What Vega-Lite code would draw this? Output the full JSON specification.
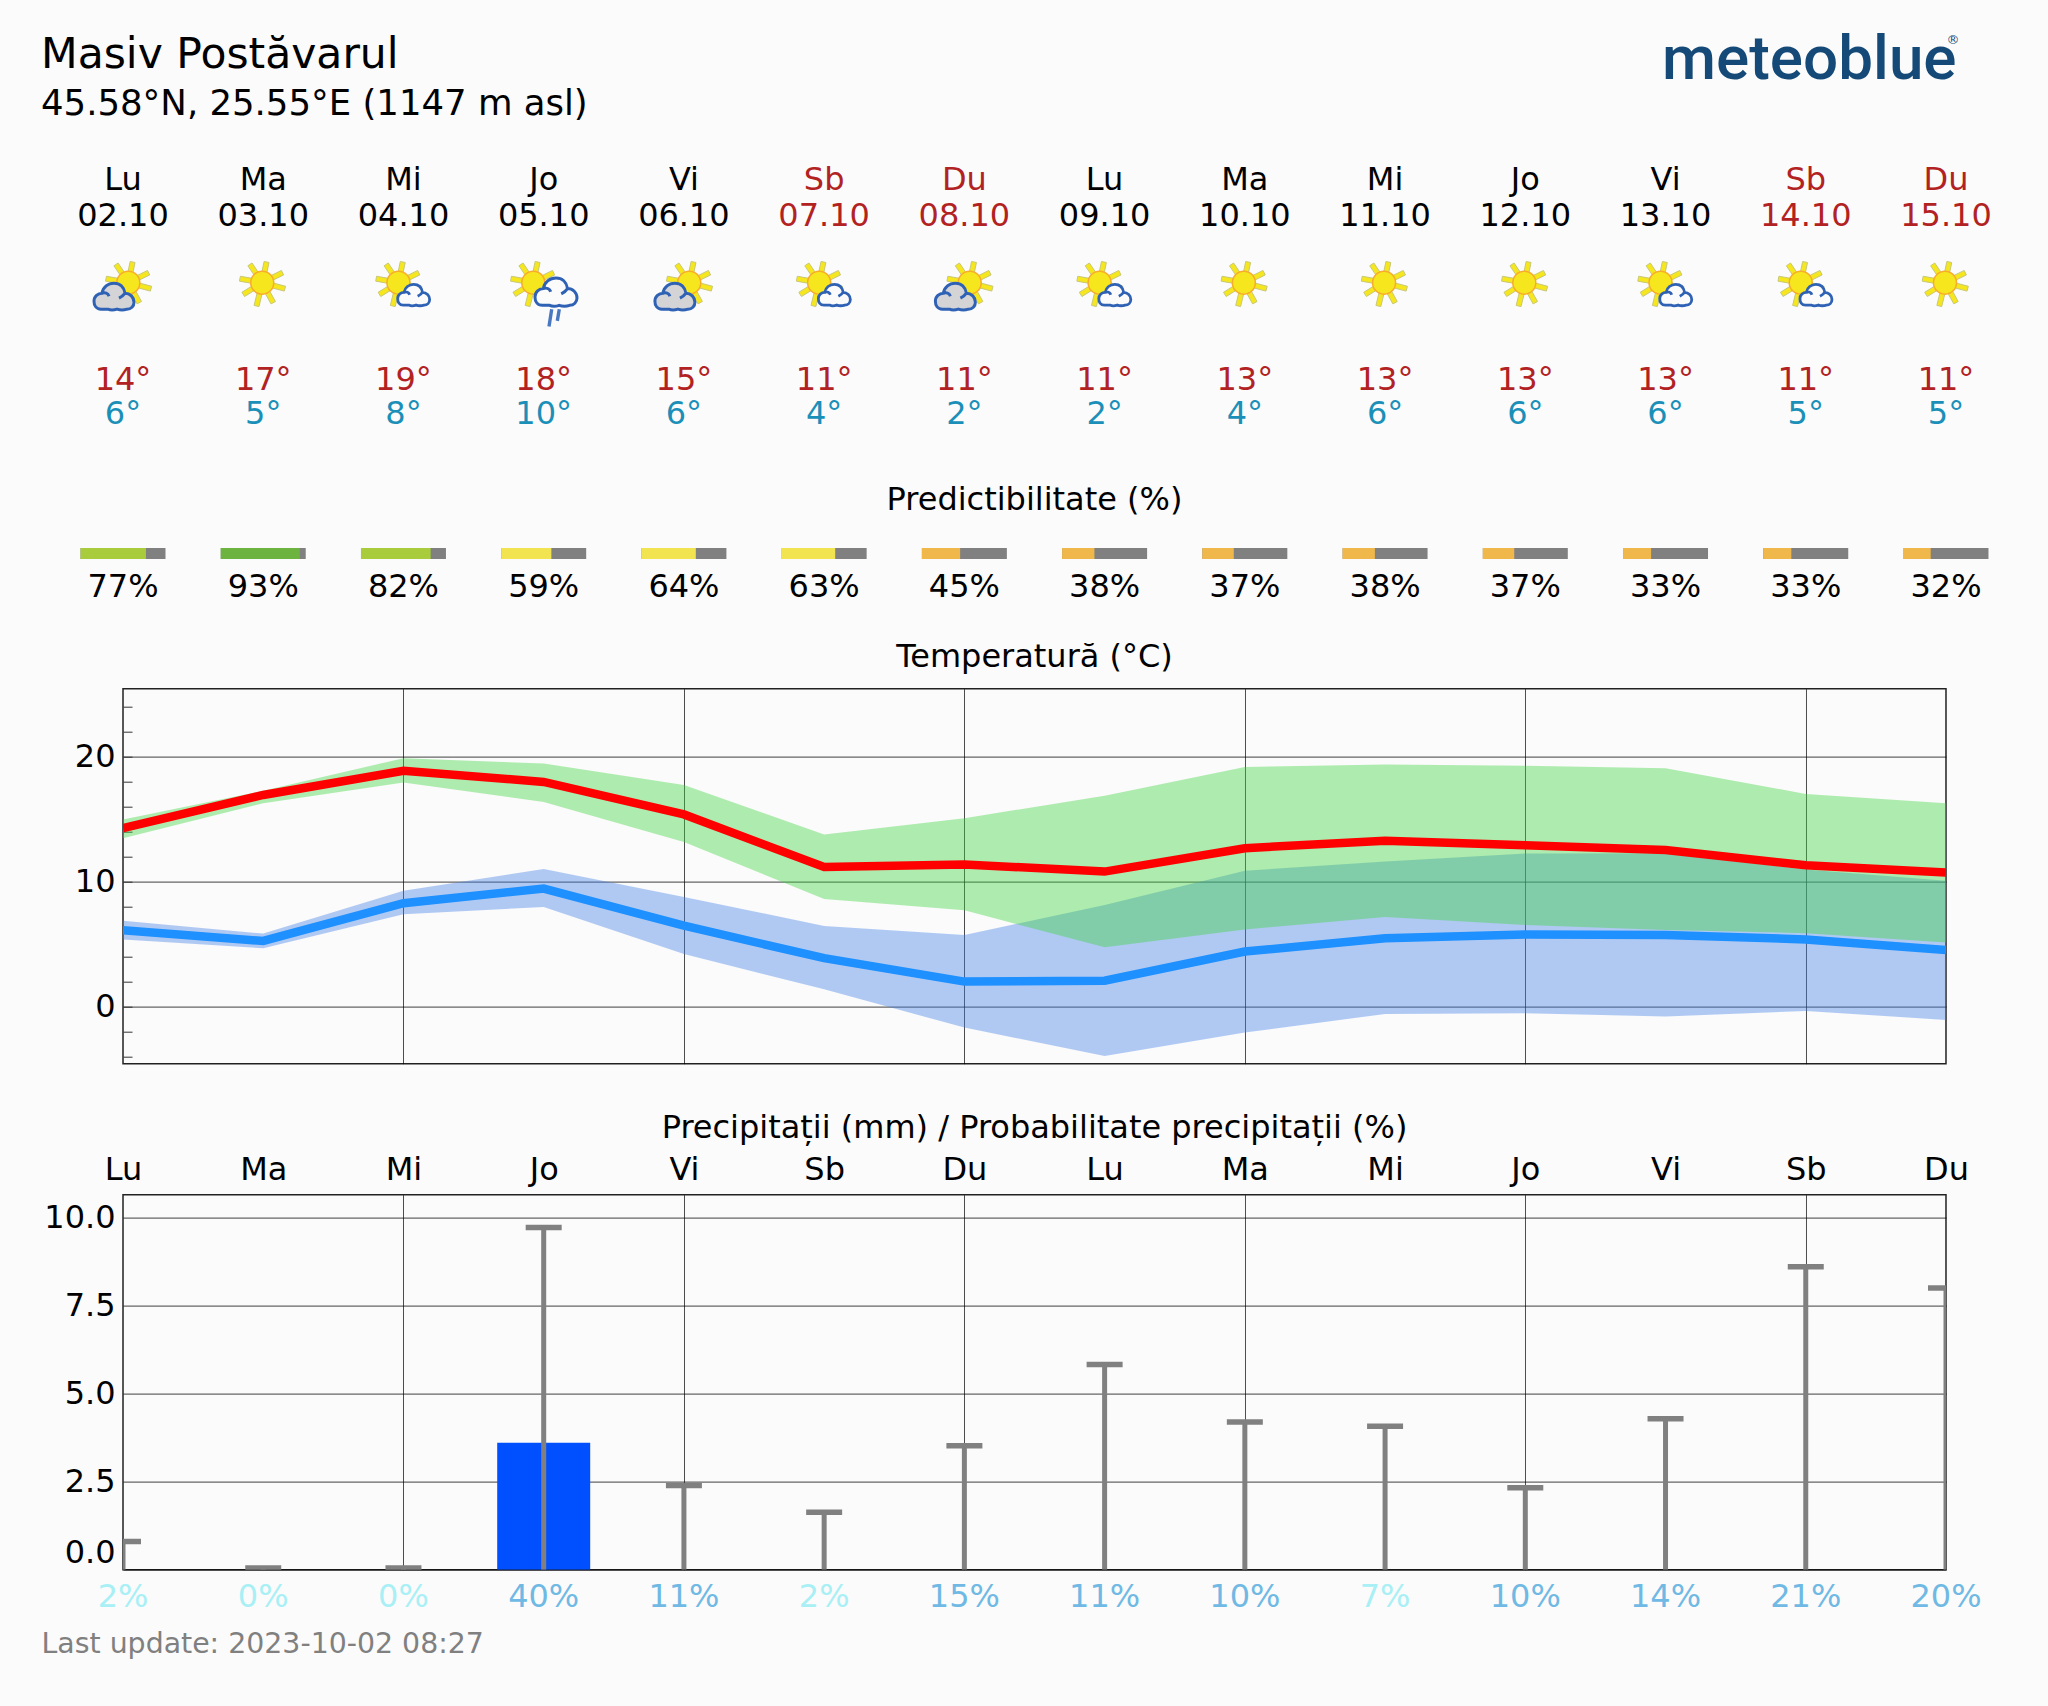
{
"$schema":"https://vega.github.io/schema/vega-lite/v6.json",
"background":"#fbfbfb",
"padding":{"left":40,"top":28.7,"right":70,"bottom":100},
"autosize":{"type":"pad"},
"spacing":131,
"bounds":"flush",
"resolve":{"scale":{"color":"independent"}},
"config":{"view":{"stroke":null},"font":"DejaVu Sans","text":{"font":"DejaVu Sans","fontSize":32},"title":{"font":"DejaVu Sans","fontSize":32,"fontWeight":"normal","color":"#000"},"axis":{"labelFont":"DejaVu Sans","labelFontSize":32,"labelColor":"#000","titleFont":"DejaVu Sans","titleFontWeight":"normal","domain":false}},
"datasets":{"days":[
{"d":0,"dow":"Lu","date":"02.10","icon":"big","tmax":14,"tmin":6,"pred":77,"prob":2,"rain":0,"rainMax":0.8,"hi":14.3,"hiUp":15.0,"hiLo":13.5,"lo":6.13,"loUp":6.9,"loLo":5.39},
{"d":1,"dow":"Ma","date":"03.10","icon":"sun","tmax":17,"tmin":5,"pred":93,"prob":0,"rain":0,"rainMax":0.05,"hi":16.96,"hiUp":17.3,"hiLo":16.3,"lo":5.28,"loUp":5.87,"loLo":4.7},
{"d":2,"dow":"Mi","date":"04.10","icon":"small","tmax":19,"tmin":8,"pred":82,"prob":0,"rain":0,"rainMax":0.05,"hi":18.9,"hiUp":19.9,"hiLo":17.95,"lo":8.3,"loUp":9.3,"loLo":7.41},
{"d":3,"dow":"Jo","date":"05.10","icon":"rain","tmax":18,"tmin":10,"pred":59,"prob":40,"rain":3.61,"rainMax":9.73,"hi":18.0,"hiUp":19.47,"hiLo":16.4,"lo":9.47,"loUp":11.04,"loLo":8.0},
{"d":4,"dow":"Vi","date":"06.10","icon":"big","tmax":15,"tmin":6,"pred":64,"prob":11,"rain":0,"rainMax":2.39,"hi":15.4,"hiUp":17.76,"hiLo":13.2,"lo":6.5,"loUp":8.8,"loLo":4.24},
{"d":5,"dow":"Sb","date":"07.10","icon":"small","tmax":11,"tmin":4,"pred":63,"prob":2,"rain":0,"rainMax":1.63,"hi":11.2,"hiUp":13.8,"hiLo":8.64,"lo":3.9,"loUp":6.48,"loLo":1.41},
{"d":6,"dow":"Du","date":"08.10","icon":"big","tmax":11,"tmin":2,"pred":45,"prob":15,"rain":0,"rainMax":3.52,"hi":11.4,"hiUp":15.1,"hiLo":7.73,"lo":2.03,"loUp":5.76,"loLo":-1.65},
{"d":7,"dow":"Lu","date":"09.10","icon":"small","tmax":11,"tmin":2,"pred":38,"prob":11,"rain":0,"rainMax":5.83,"hi":10.83,"hiUp":16.9,"hiLo":4.77,"lo":2.1,"loUp":8.16,"loLo":-3.92},
{"d":8,"dow":"Ma","date":"10.10","icon":"sun","tmax":13,"tmin":4,"pred":37,"prob":10,"rain":0,"rainMax":4.2,"hi":12.7,"hiUp":19.2,"hiLo":6.2,"lo":4.43,"loUp":10.9,"loLo":-2.05},
{"d":9,"dow":"Mi","date":"11.10","icon":"sun","tmax":13,"tmin":6,"pred":38,"prob":7,"rain":0,"rainMax":4.08,"hi":13.3,"hiUp":19.4,"hiLo":7.2,"lo":5.5,"loUp":11.63,"loLo":-0.56},
{"d":10,"dow":"Jo","date":"12.10","icon":"sun","tmax":13,"tmin":6,"pred":37,"prob":10,"rain":0,"rainMax":2.33,"hi":12.93,"hiUp":19.3,"hiLo":6.56,"lo":5.8,"loUp":12.27,"loLo":-0.5},
{"d":11,"dow":"Vi","date":"13.10","icon":"small","tmax":13,"tmin":6,"pred":33,"prob":14,"rain":0,"rainMax":4.29,"hi":12.56,"hiUp":19.1,"hiLo":6.16,"lo":5.76,"loUp":12.3,"loLo":-0.77},
{"d":12,"dow":"Sb","date":"14.10","icon":"small","tmax":11,"tmin":5,"pred":33,"prob":21,"rain":0,"rainMax":8.61,"hi":11.33,"hiUp":17.04,"hiLo":5.9,"lo":5.4,"loUp":11.0,"loLo":-0.32},
{"d":13,"dow":"Du","date":"15.10","icon":"sun","tmax":11,"tmin":5,"pred":32,"prob":20,"rain":0,"rainMax":8.01,"hi":10.75,"hiUp":16.3,"hiLo":5.15,"lo":4.56,"loUp":10.1,"loLo":-1.04}
]},
"vconcat":[
{"width":1823,"height":288,"data":{"name":"days"},
 "title":{"text":"Masiv Postăvarul","subtitle":"45.58°N, 25.55°E (1147 m asl)","anchor":"start","frame":"group","dx":-82,"offset":-94,"fontSize":42.5,"subtitleFont":"DejaVu Sans","subtitleFontSize":35.5,"subtitleColor":"#000","subtitlePadding":11},
 "transform":[{"calculate":"datum.tmax+'°'","as":"maxLabel"},{"calculate":"datum.tmin+'°'","as":"minLabel"}],
 "encoding":{"x":{"field":"d","type":"quantitative","scale":{"domain":[0,13],"nice":false},"axis":null}},
 "layer":[
 {"mark":{"type":"text"},"encoding":{"y":{"datum":52,"type":"quantitative","scale":{"domain":[0,288],"reverse":true,"nice":false},"axis":null},"text":{"field":"dow"},"color":{"condition":{"test":"datum.dow=='Sb'||datum.dow=='Du'","value":"#b22222"},"value":"#000"}}},
 {"mark":{"type":"text"},"encoding":{"y":{"datum":88,"type":"quantitative","scale":{"domain":[0,288],"reverse":true,"nice":false},"axis":null},"text":{"field":"date"},"color":{"condition":{"test":"datum.dow=='Sb'||datum.dow=='Du'","value":"#b22222"},"value":"#000"}}},
 {"mark":{"type":"text","color":"#b22222"},"encoding":{"y":{"datum":252,"type":"quantitative","scale":{"domain":[0,288],"reverse":true,"nice":false},"axis":null},"text":{"field":"maxLabel"}}},
 {"mark":{"type":"text","color":"#1a8fb8"},"encoding":{"y":{"datum":286,"type":"quantitative","scale":{"domain":[0,288],"reverse":true,"nice":false},"axis":null},"text":{"field":"minLabel"}}},
 {"transform":[{"filter":"datum.icon=='sun'"}],"mark":{"type":"point","filled":true,"size":4,"xOffset":-1,"fill":"#f5e61e","stroke":"#c8c878","strokeWidth":1,"opacity":1,"shape":"M4.49,-9.3L6.75,-20.19L1.85,-21.21L-0.41,-10.32ZM10.08,-2.17L21.4,-7.75L19.2,-12.25L7.88,-6.67ZM9.02,4.97L22.06,8.42L23.34,3.58L10.3,0.13ZM2.63,9.97L8.81,21.2L13.19,18.8L7.01,7.57ZM-4.81,9.12L-8.13,22.71L-3.27,23.89L0.05,10.3ZM-9.83,3.12L-20.31,9.57L-17.69,13.83L-7.21,7.38ZM-9.4,-4.23L-21.86,-6.46L-22.74,-1.54L-10.28,0.69ZM-3.51,-9.72L-10.22,-19.7L-14.38,-16.9L-7.67,-6.92Z"},"encoding":{"y":{"datum":155,"type":"quantitative","scale":{"domain":[0,288],"reverse":true,"nice":false},"axis":null}}},
 {"transform":[{"filter":"datum.icon=='small'"}],"mark":{"type":"point","filled":true,"size":4,"xOffset":-5,"fill":"#f5e61e","stroke":"#c8c878","strokeWidth":1,"opacity":1,"shape":"M4.49,-9.3L6.75,-20.19L1.85,-21.21L-0.41,-10.32ZM10.08,-2.17L21.4,-7.75L19.2,-12.25L7.88,-6.67ZM9.02,4.97L22.06,8.42L23.34,3.58L10.3,0.13ZM2.63,9.97L8.81,21.2L13.19,18.8L7.01,7.57ZM-4.81,9.12L-8.13,22.71L-3.27,23.89L0.05,10.3ZM-9.83,3.12L-20.31,9.57L-17.69,13.83L-7.21,7.38ZM-9.4,-4.23L-21.86,-6.46L-22.74,-1.54L-10.28,0.69ZM-3.51,-9.72L-10.22,-19.7L-14.38,-16.9L-7.67,-6.92Z"},"encoding":{"y":{"datum":155,"type":"quantitative","scale":{"domain":[0,288],"reverse":true,"nice":false},"axis":null}}},
 {"transform":[{"filter":"datum.icon=='big'"}],"mark":{"type":"point","filled":true,"size":4,"xOffset":5.3,"fill":"#f5e61e","stroke":"#c8c878","strokeWidth":1,"opacity":1,"shape":"M4.49,-9.3L6.75,-20.19L1.85,-21.21L-0.41,-10.32ZM10.08,-2.17L21.4,-7.75L19.2,-12.25L7.88,-6.67ZM9.02,4.97L22.06,8.42L23.34,3.58L10.3,0.13ZM2.63,9.97L8.81,21.2L13.19,18.8L7.01,7.57ZM-4.81,9.12L-8.13,22.71L-3.27,23.89L0.05,10.3ZM-9.83,3.12L-20.31,9.57L-17.69,13.83L-7.21,7.38ZM-9.4,-4.23L-21.86,-6.46L-22.74,-1.54L-10.28,0.69ZM-3.51,-9.72L-10.22,-19.7L-14.38,-16.9L-7.67,-6.92Z"},"encoding":{"y":{"datum":155,"type":"quantitative","scale":{"domain":[0,288],"reverse":true,"nice":false},"axis":null}}},
 {"transform":[{"filter":"datum.icon=='rain'"}],"mark":{"type":"point","filled":true,"size":4,"xOffset":-10.4,"fill":"#f5e61e","stroke":"#c8c878","strokeWidth":1,"opacity":1,"shape":"M4.49,-9.3L6.75,-20.19L1.85,-21.21L-0.41,-10.32ZM10.08,-2.17L21.4,-7.75L19.2,-12.25L7.88,-6.67ZM9.02,4.97L22.06,8.42L23.34,3.58L10.3,0.13ZM2.63,9.97L8.81,21.2L13.19,18.8L7.01,7.57ZM-4.81,9.12L-8.13,22.71L-3.27,23.89L0.05,10.3ZM-9.83,3.12L-20.31,9.57L-17.69,13.83L-7.21,7.38ZM-9.4,-4.23L-21.86,-6.46L-22.74,-1.54L-10.28,0.69ZM-3.51,-9.72L-10.22,-19.7L-14.38,-16.9L-7.67,-6.92Z"},"encoding":{"y":{"datum":155,"type":"quantitative","scale":{"domain":[0,288],"reverse":true,"nice":false},"axis":null}}},
 {"mark":{"type":"point","filled":true,"size":4,"fill":"#f5e61e","stroke":"#f9ab2a","strokeWidth":1.5,"opacity":1,"xOffset":-1,"shape":"M11.5,0C11.5,6.35,6.35,11.5,0,11.5C-6.35,11.5,-11.5,6.35,-11.5,0C-11.5,-6.35,-6.35,-11.5,0,-11.5C6.35,-11.5,11.5,-6.35,11.5,0Z"},"transform":[{"filter":"datum.icon=='sun'"}],"encoding":{"y":{"datum":155,"type":"quantitative","scale":{"domain":[0,288],"reverse":true,"nice":false},"axis":null}}},
 {"mark":{"type":"point","filled":true,"size":4,"fill":"#f5e61e","stroke":"#f9ab2a","strokeWidth":1.5,"opacity":1,"xOffset":-5,"shape":"M11.5,0C11.5,6.35,6.35,11.5,0,11.5C-6.35,11.5,-11.5,6.35,-11.5,0C-11.5,-6.35,-6.35,-11.5,0,-11.5C6.35,-11.5,11.5,-6.35,11.5,0Z"},"transform":[{"filter":"datum.icon=='small'"}],"encoding":{"y":{"datum":155,"type":"quantitative","scale":{"domain":[0,288],"reverse":true,"nice":false},"axis":null}}},
 {"mark":{"type":"point","filled":true,"size":4,"fill":"#f5e61e","stroke":"#f9ab2a","strokeWidth":1.5,"opacity":1,"xOffset":5.3,"shape":"M11.5,0C11.5,6.35,6.35,11.5,0,11.5C-6.35,11.5,-11.5,6.35,-11.5,0C-11.5,-6.35,-6.35,-11.5,0,-11.5C6.35,-11.5,11.5,-6.35,11.5,0Z"},"transform":[{"filter":"datum.icon=='big'"}],"encoding":{"y":{"datum":155,"type":"quantitative","scale":{"domain":[0,288],"reverse":true,"nice":false},"axis":null}}},
 {"mark":{"type":"point","filled":true,"size":4,"fill":"#f5e61e","stroke":"#f9ab2a","strokeWidth":1.5,"opacity":1,"xOffset":-10.4,"shape":"M11.5,0C11.5,6.35,6.35,11.5,0,11.5C-6.35,11.5,-11.5,6.35,-11.5,0C-11.5,-6.35,-6.35,-11.5,0,-11.5C6.35,-11.5,11.5,-6.35,11.5,0Z"},"transform":[{"filter":"datum.icon=='rain'"}],"encoding":{"y":{"datum":155,"type":"quantitative","scale":{"domain":[0,288],"reverse":true,"nice":false},"axis":null}}},
 {"transform":[{"filter":"datum.icon=='big'"}],"mark":{"type":"point","filled":true,"size":4,"xOffset":-9,"fill":"#d4d4d6","stroke":"#2f62b5","strokeWidth":3,"opacity":1,"shape":"M-13,13C-18,13,-20,9,-20,5C-20,0,-16,-3,-12,-3C-11,-9,-6,-13,0,-13C6,-13,10,-9,11,-3C16,-3,20,1,20,6C20,10,17,13,13,13C10,14,6,14,3,13C0,14,-4,14,-6,13ZM-12,-3C-9,-4,-6,-3,-5,0M11,-3C9,0,7,1,5,2"},"encoding":{"y":{"datum":168.5,"type":"quantitative","scale":{"domain":[0,288],"reverse":true,"nice":false},"axis":null}}},
 {"transform":[{"filter":"datum.icon=='small'"}],"mark":{"type":"point","filled":true,"size":2.56,"xOffset":10.2,"fill":"#fbfbfb","stroke":"#2f62b5","strokeWidth":2.8,"opacity":1,"shape":"M-13,13C-18,13,-20,9,-20,5C-20,0,-16,-3,-12,-3C-11,-9,-6,-13,0,-13C6,-13,10,-9,11,-3C16,-3,20,1,20,6C20,10,17,13,13,13C10,14,6,14,3,13C0,14,-4,14,-6,13ZM-12,-3C-9,-4,-6,-3,-5,0M11,-3C9,0,7,1,5,2"},"encoding":{"y":{"datum":167,"type":"quantitative","scale":{"domain":[0,288],"reverse":true,"nice":false},"axis":null}}},
 {"transform":[{"filter":"datum.icon=='rain'"}],"mark":{"type":"point","filled":true,"size":4.41,"xOffset":12.3,"fill":"#fbfbfb","stroke":"#2f62b5","strokeWidth":3,"opacity":1,"shape":"M-13,13C-18,13,-20,9,-20,5C-20,0,-16,-3,-12,-3C-11,-9,-6,-13,0,-13C6,-13,10,-9,11,-3C16,-3,20,1,20,6C20,10,17,13,13,13C10,14,6,14,3,13C0,14,-4,14,-6,13ZM-12,-3C-9,-4,-6,-3,-5,0M11,-3C9,0,7,1,5,2"},"encoding":{"y":{"datum":164,"type":"quantitative","scale":{"domain":[0,288],"reverse":true,"nice":false},"axis":null}}},
 {"transform":[{"filter":"datum.icon=='rain'"}],"mark":{"type":"point","filled":false,"size":4,"xOffset":10.8,"stroke":"#4a78c0","strokeWidth":3.4,"opacity":1,"shape":"M-2.8,-8L-5.5,9.3M4.8,-8L2.8,3.7"},"encoding":{"y":{"datum":189.5,"type":"quantitative","scale":{"domain":[0,288],"reverse":true,"nice":false},"axis":null}}},
 {"transform":[{"filter":"datum.d==11"}],"mark":{"type":"text","font":"Roboto","fontWeight":500,"fontSize":62,"color":"#154a78","align":"left","baseline":"alphabetic","xOffset":-3.5},"encoding":{"y":{"datum":-49,"type":"quantitative","scale":{"domain":[0,288],"reverse":true,"nice":false},"axis":null},"text":{"value":"meteoblue"}}},
 {"transform":[{"filter":"datum.d==13"}],"mark":{"type":"text","fontSize":13,"color":"#154a78","xOffset":7},"encoding":{"y":{"datum":-87.8,"type":"quantitative","scale":{"domain":[0,288],"reverse":true,"nice":false},"axis":null},"text":{"value":"®"}}}
 ]},
{"width":1823,"height":11,"data":{"name":"days"},
 "title":{"text":"Predictibilitate (%)","anchor":"middle","offset":30},
 "transform":[{"calculate":"datum.d-0.303","as":"x0"},{"calculate":"datum.d-0.303+0.606*datum.pred/100","as":"xm"},{"calculate":"datum.d+0.303","as":"x1"},{"calculate":"datum.pred+'%'","as":"predLabel"}],
 "layer":[
 {"mark":{"type":"rule","color":"#808080","strokeWidth":11,"yOffset":1.3},"encoding":{"x":{"field":"x0","type":"quantitative","scale":{"domain":[0,13],"nice":false},"axis":null},"x2":{"field":"x1"}}},
 {"mark":{"type":"rule","strokeWidth":11,"opacity":1,"yOffset":1.3},"encoding":{"x":{"field":"x0","type":"quantitative"},"x2":{"field":"xm"},"color":{"field":"pred","type":"quantitative","legend":null,"scale":{"type":"threshold","domain":[50,70,90],"range":["#f0b84a","#f2e451","#a8cc3c","#6db33f"]}}}},
 {"mark":{"type":"text","dy":34.5},"encoding":{"x":{"field":"d","type":"quantitative"},"text":{"field":"predLabel"}}}
 ]},
{"width":1823,"height":375,"data":{"name":"days"},"view":{"stroke":"#222","strokeWidth":1.5},
 "title":{"text":"Temperatură (°C)","anchor":"middle","offset":15},
 "encoding":{"x":{"field":"d","type":"quantitative","scale":{"domain":[0,13],"nice":false},"axis":{"values":[2,4,6,8,10,12],"labels":false,"ticks":false,"title":null,"grid":true,"gridColor":"#000","gridOpacity":0.7,"gridWidth":1}}},
 "layer":[
 {"mark":{"type":"area","color":"#417fe8","opacity":0.4,"clip":true},"encoding":{"y":{"field":"loLo","type":"quantitative","scale":{"domain":[-4.54,25.46],"nice":false,"zero":false},"axis":{"values":[-4,-2,0,2,4,6,8,10,12,14,16,18,20,22,24],"tickCount":30,"title":null,"tickSize":-9,"tickColor":"#333","tickWidth":1,"labelPadding":17,"labelOverlap":false,"labelExpr":"datum.value%10==0?datum.label:''","grid":true,"gridColor":"#000","gridWidth":1.3,"gridOpacity":{"condition":{"test":"datum.value%10==0","value":0.6},"value":0}}},"y2":{"field":"loUp"}}},
 {"mark":{"type":"area","color":"#3cd43c","opacity":0.4,"clip":true},"encoding":{"y":{"field":"hiLo","type":"quantitative"},"y2":{"field":"hiUp"}}},
 {"mark":{"type":"line","color":"#1e90ff","strokeWidth":8.5,"clip":true,"strokeCap":"butt"},"encoding":{"y":{"field":"lo","type":"quantitative"}}},
 {"mark":{"type":"line","color":"#ff0000","strokeWidth":8.5,"clip":true,"strokeCap":"butt"},"encoding":{"y":{"field":"hi","type":"quantitative"}}}
 ]},
{"width":1823,"height":375,"data":{"name":"days"},"view":{"stroke":"#222","strokeWidth":1.5},
 "title":{"text":"Precipitații (mm) / Probabilitate precipitații (%)","anchor":"middle","offset":9},
 "transform":[{"calculate":"datum.prob+'%'","as":"probLabel"},{"calculate":"0","as":"base"}],
 "encoding":{"x":{"field":"d","type":"quantitative","scale":{"domain":[0,13],"nice":false,"padding":0},"axis":{"orient":"top","values":[0,1,2,3,4,5,6,7,8,9,10,11,12,13],"tickCount":30,"labelExpr":"['Lu','Ma','Mi','Jo','Vi','Sb','Du','Lu','Ma','Mi','Jo','Vi','Sb','Du'][datum.value]","ticks":false,"labelPadding":8,"labelFlush":false,"labelOverlap":false,"title":"Last update: 2023-10-02 08:27","titleFontSize":28.4,"titleColor":"#808080","titleAnchor":"start","titleAlign":"left","titleBaseline":"middle","titleX":-82,"titleY":449,"grid":true,"gridColor":"#000","gridWidth":1,"gridOpacity":{"condition":{"test":"datum.value%2==0&&datum.value>0&&datum.value<13","value":0.7},"value":0}}}},
 "layer":[
 {"mark":{"type":"bar","color":"#0050ff","size":93,"clip":true},"encoding":{"y":{"field":"rain","type":"quantitative","scale":{"domain":[0,10.66],"nice":false},"axis":{"values":[0,2.5,5,7.5,10],"format":".1f","title":null,"ticks":false,"labelPadding":8,"labelOverlap":false,"labelBaseline":{"condition":{"test":"datum.value==0","value":"bottom"},"value":"middle"},"grid":true,"gridColor":"#000","gridWidth":1.2,"gridOpacity":0.6}}}},
 {"mark":{"type":"rule","color":"#808080","strokeWidth":5,"clip":true},"encoding":{"y":{"field":"base","type":"quantitative"},"y2":{"field":"rainMax"}}},
 {"mark":{"type":"tick","orient":"horizontal","color":"#808080","size":36,"thickness":5.5,"clip":true,"opacity":1},"encoding":{"y":{"field":"rainMax","type":"quantitative"}}},
 {"mark":{"type":"text","dy":27},"encoding":{"y":{"field":"base","type":"quantitative"},"text":{"field":"probLabel"},"color":{"field":"prob","type":"quantitative","legend":null,"scale":{"type":"threshold","domain":[10],"range":["#a8f0f5","#6fb9e4"]}}}}
 ]}
]}
